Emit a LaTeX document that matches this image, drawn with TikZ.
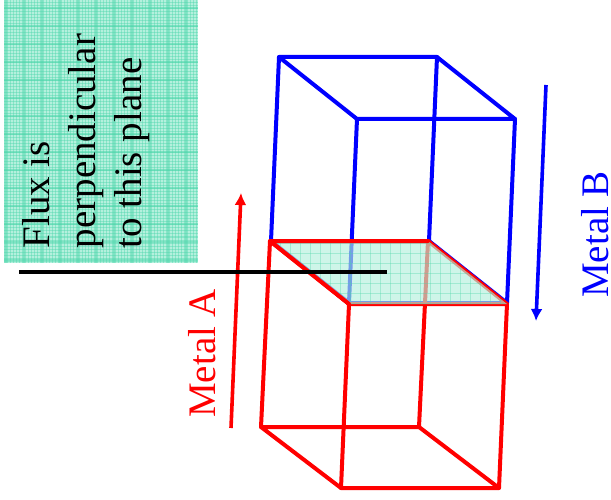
\documentclass[tikz,border=0pt]{standalone}
\usepackage{fontspec}
\setmainfont{Liberation Serif}
\usetikzlibrary{arrows.meta}
\definecolor{meshbase}{HTML}{B4F0DD}
\definecolor{meshline}{HTML}{4AD6AA}
\definecolor{metalred}{HTML}{FF0000}
\definecolor{metalblue}{HTML}{0000FF}
\tikzset{
  wire/.style={line width=4pt,line join=round,line cap=round},
  redwire/.style={wire,draw=metalred},
  bluewire/.style={wire,draw=metalblue},
  bigtext/.style={font=\fontsize{39}{46}\selectfont,rotate=90,inner sep=0pt},
  fineline/.style={draw=meshline,line width=1pt},
  coarseline/.style={draw=meshline,line width=2pt},
  dirarrow/.style={line width=3.6pt,-{Latex[length=12pt,width=12pt]}}
}
\begin{document}
\begin{tikzpicture}[x=1pt,y=-1pt]
\useasboundingbox (0,0) rectangle (611,500);
% flux panel
\fill[meshbase] (4,0) rectangle (198,263);
\begin{scope}
\clip (4,0) rectangle (198,263);
\foreach \i in {0,3,...,198} \draw[fineline,opacity=.4] (4+\i,0) -- (4+\i,263);
\foreach \i in {0,3,...,264} \draw[fineline,opacity=.4] (4,\i) -- (198,\i);
\foreach \i in {0,18,...,198} \draw[coarseline,opacity=.5] (6+\i,0) -- (6+\i,263);
\foreach \i in {0,18,...,264} \draw[coarseline,opacity=.5] (4,8+\i) -- (198,8+\i);
\end{scope}
\node[bigtext,anchor=south west,align=left] (flux) at (150,248.5) {Flux is\\perpendicular\\to this plane};
% vertices
\coordinate (bta) at (279,57); \coordinate (btb) at (437,57);
\coordinate (btc) at (515,119); \coordinate (btd) at (357,119);
\coordinate (bba) at (271,241); \coordinate (bbb) at (429,241);
\coordinate (bbc) at (507,303); \coordinate (bbd) at (349,303);
\coordinate (rta) at (270,241); \coordinate (rtb) at (428,241);
\coordinate (rtc) at (507,304); \coordinate (rtd) at (349,304);
\coordinate (rba) at (261,427); \coordinate (rbb) at (419,427);
\coordinate (rbc) at (499,488); \coordinate (rbd) at (341,488);
% blue box
\draw[bluewire] (bta) -- (btb) -- (btc) -- (btd) -- cycle;
\draw[bluewire] (bta) -- (bba) (btb) -- (bbb) (btc) -- (bbc) (btd) -- (bbd);
\draw[bluewire] (bba) -- (bbb) -- (bbc) -- (bbd) -- cycle;
% red box
\draw[redwire] (rta) -- (rtb) -- (rtc) -- (rtd) -- cycle;
\draw[redwire] (rta) -- (rba) (rtb) -- (rbb) (rtc) -- (rbc) (rtd) -- (rbd);
\draw[redwire] (rba) -- (rbb) -- (rbc) -- (rbd) -- cycle;
% shared plane
\fill[meshbase,opacity=.65] (rta) -- (rtb) -- (rtc) -- (rtd) -- cycle;
\begin{scope}
\clip (rta) -- (rtb) -- (rtc) -- (rtd) -- cycle;
\foreach \i in {0,10,...,240} \draw[fineline,opacity=.35] (270+\i,241) -- (270+\i,304);
\foreach \i in {0,10,...,60} \draw[fineline,opacity=.35] (270,243+\i) -- (507,243+\i);
\end{scope}
\draw[redwire] (rtd) -- (rta) -- (rtb);
% metal arrows
\coordinate (aa) at (231,428); \coordinate (ab) at (241,193);
\draw[dirarrow,metalred] (aa) -- (ab);
\coordinate (ba) at (546,85); \coordinate (bb) at (536,321);
\draw[dirarrow,metalblue] (ba) -- (bb);
% flux line
\coordinate (fa) at (19,272); \coordinate (fb) at (387,272);
\draw[black,line width=3.2pt] (fa) -- (fb);
\node[bigtext,anchor=south west,text=metalred] (metala) at (216,418) {Metal A};
\node[bigtext,anchor=south west,text=metalblue] (metalb) at (609,298) {Metal B};
\end{tikzpicture}
\end{document}
